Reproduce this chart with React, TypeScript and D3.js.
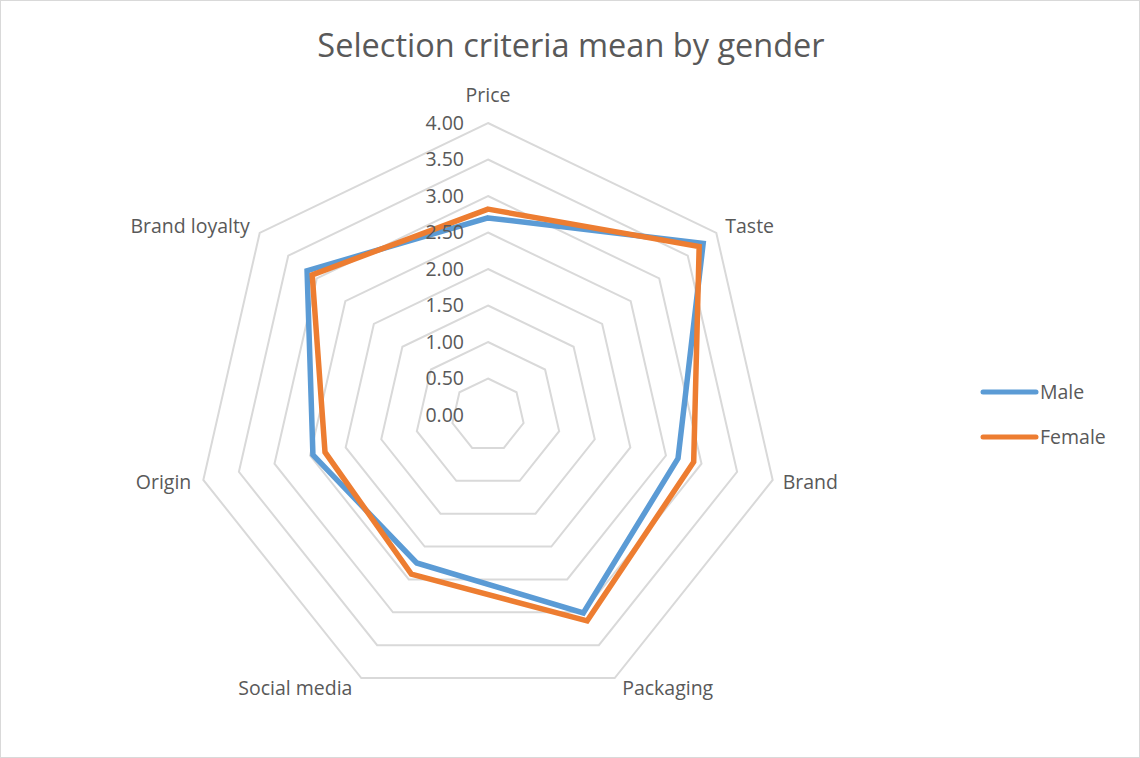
import React from "react";
import * as d3 from "d3";

const categories = ["Price", "Taste", "Brand", "Packaging", "Social media", "Origin", "Brand loyalty"];
const maleValues = [2.7, 3.77, 2.67, 3.01, 2.25, 2.46, 3.17];
const femaleValues = [2.82, 3.7, 2.89, 3.13, 2.42, 2.29, 3.08];
const tickValues = [0, 0.5, 1, 1.5, 2, 2.5, 3, 3.5, 4];
const seriesNames = ["Male", "Female"];
const seriesColors = ["#5b9bd5", "#ed7d31"];

const W = 1140;
const H = 758;
const cx = 488;
const cy = 415;
const R = 292;

export default function App() {
  const r = d3.scaleLinear().domain([0, 4]).range([0, R]);
  const n = categories.length;
  const angle = (i: number) => (i * 2 * Math.PI) / n;
  const pt = (i: number, v: number): [number, number] => [
    cx + r(v) * Math.sin(angle(i)),
    cy - r(v) * Math.cos(angle(i)),
  ];
  const line = d3.line<[number, number]>().curve(d3.curveLinearClosed);
  const series = [maleValues, femaleValues];
  const font = "'Open Sans', 'Noto Sans', sans-serif";
  const fs = 19.5;
  return (
    <svg
      width={W}
      height={H}
      style={{ position: "absolute", left: 0, top: 0, background: "#fff" }}
      fontFamily={font}
    >
      <rect x={0.5} y={0.5} width={W - 1} height={H - 1} fill="#fff" stroke="#d9d9d9" />
      <text x={571} y={57} textAnchor="middle" fontSize={32.5} fill="#595959">
        Selection criteria mean by gender
      </text>
      {tickValues.slice(1).map((t) => (
        <path
          key={t}
          d={line(categories.map((_, i) => pt(i, t))) || ""}
          fill="none"
          stroke="#d9d9d9"
          strokeWidth={2}
        />
      ))}
      {series.map((vals, s) => (
        <path
          key={s}
          d={line(vals.map((v, i) => pt(i, v))) || ""}
          fill="none"
          stroke={seriesColors[s]}
          strokeWidth={5.5}
          strokeLinejoin="miter"
        />
      ))}
      {tickValues.map((t) => (
        <text
          key={t}
          x={cx - 24}
          y={cy - r(t)}
          dy="0.35em"
          textAnchor="end"
          fontSize={fs}
          fill="#595959"
        >
          {t.toFixed(2)}
        </text>
      ))}
      {categories.map((c, i) => {
        const [x, y] = pt(i, 4);
        const a = angle(i);
        const sx = Math.sin(a);
        const cyy = -Math.cos(a);
        let anchor = "middle";
        let lx = x;
        let ly = y;
        if (i === 0) {
          ly = y - 28;
        } else if (Math.abs(sx) > 0.5 && Math.abs(cyy) < 0.5) {
          anchor = sx > 0 ? "start" : "end";
          lx = x + (sx > 0 ? 10 : -12);
          ly = y + 2;
        } else if (cyy < 0) {
          anchor = sx > 0 ? "start" : "end";
          lx = x + (sx > 0 ? 9 : -10);
          ly = y - 7;
        } else {
          lx = x + (sx > 0 ? 53 : -66);
          ly = y + 10;
        }
        return (
          <text
            key={c}
            x={lx}
            y={ly}
            dy="0.35em"
            textAnchor={anchor}
            fontSize={fs}
            fill="#595959"
          >
            {c}
          </text>
        );
      })}
      {seriesNames.map((name, s) => (
        <g key={name} transform={`translate(0, ${392 + s * 45})`}>
          <line x1={983} x2={1036} y1={0} y2={0} stroke={seriesColors[s]} strokeWidth={5} strokeLinecap="round" />
          <text x={1040} y={0} dy="0.35em" fontSize={fs} fill="#595959">
            {name}
          </text>
        </g>
      ))}
    </svg>
  );
}
